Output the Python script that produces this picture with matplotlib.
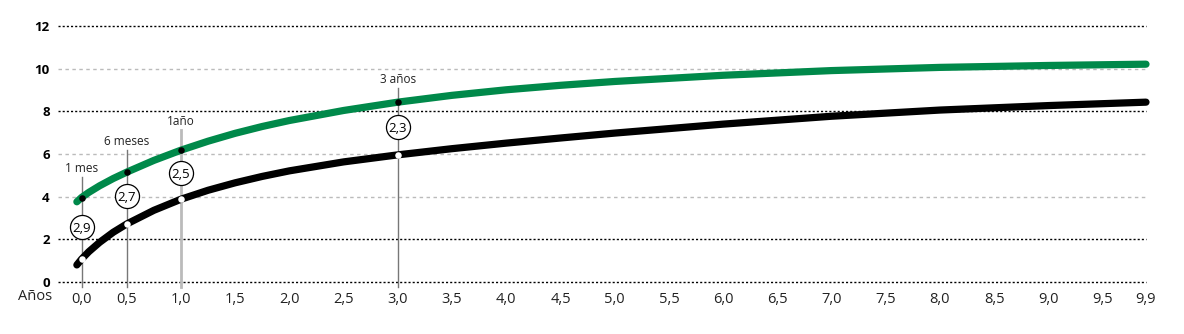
import numpy as np
import matplotlib.pyplot as plt

plt.rcParams['font.family'] = ['Open Sans', 'DejaVu Sans']

# curve values (years -> value)
years = [0.04, 0.083, 0.15, 0.25, 0.375, 0.5, 0.75, 1.0, 1.25, 1.5, 1.75, 2.0, 2.5,
         3.0, 3.5, 4.0, 4.5, 5.0, 6.0, 7.0, 8.0, 9.0, 9.9]
green_vals = [3.76, 3.96, 4.20, 4.51, 4.85, 5.15, 5.70, 6.18, 6.60, 6.97, 7.29, 7.57, 8.04,
              8.43, 8.75, 9.01, 9.22, 9.40, 9.69, 9.91, 10.06, 10.15, 10.21]
black_vals = [0.80, 1.07, 1.42, 1.86, 2.33, 2.72, 3.36, 3.88, 4.30, 4.65, 4.95, 5.21, 5.63,
              5.96, 6.25, 6.51, 6.75, 6.98, 7.40, 7.77, 8.06, 8.27, 8.43]

# highlighted moments
mark_t = [1 / 12, 0.5, 1.0, 3.0]
mark_names = ['1 mes', '6 meses', '1año', '3 años']
mark_green = [3.96, 5.15, 6.18, 8.43]
mark_black = [1.07, 2.72, 3.88, 5.96]
mark_gap = ['2,9', '2,7', '2,5', '2,3']

# x ticks
xtick_pos = [1 / 12] + [0.5 * i for i in range(1, 20)] + [9.9]
xtick_lab = ['0,0'] + [f'{0.5 * i:.1f}'.replace('.', ',') for i in range(1, 20)] + ['9,9']
ytick_pos = [0, 2, 4, 6, 8, 10, 12]

green = '#00894a'
txt = '#222222'

W, H = 1184, 334
fig = plt.figure(figsize=(W / 100, H / 100), dpi=100)
ax = fig.add_axes([58 / W, 1 - 282 / H, (1146 - 58) / W, (282 - 26) / H])
ax.set_xlim(-0.134, 9.9)
ax.set_ylim(0, 12)
for s in ax.spines.values():
    s.set_visible(False)
ppu = 256 / 12  # pixels per y unit

# grid lines
for y in ytick_pos:
    if y in (0, 2, 8, 12):
        ax.axhline(y, color='black', lw=1.0, ls=(0, (1.5, 1.5)), zorder=1, clip_on=False)
    else:
        ax.axhline(y, color='#bbbbbb', lw=1.0, ls=(0, (2.5, 2.5)), zorder=1, clip_on=False)

# vertical marker lines and labels
top_px = [21, 22, 20, 14]
for i, t in enumerate(mark_t):
    top = mark_green[i] + top_px[i] / ppu
    if mark_names[i] == '1año':
        col, lw = '#bbbbbb', 2.0
    else:
        col, lw = '#777777', 1.0
    ax.plot([t, t], [-5 / ppu, top], color=col, lw=lw, zorder=2, clip_on=False)
    ax.text(t, top + 2 / ppu, mark_names[i], ha='center', va='bottom',
            fontsize=8.5, color=txt)

ax.plot(years, green_vals, color=green, lw=5.2, solid_capstyle='round',
        solid_joinstyle='round', zorder=3, clip_on=False)
ax.plot(years, black_vals, color='black', lw=5.2, solid_capstyle='round',
        solid_joinstyle='round', zorder=3, clip_on=False)
ax.scatter(mark_t, mark_green, s=22, color='black', zorder=4, linewidths=0)
ax.scatter(mark_t, mark_black, s=22, color='white', zorder=4, linewidths=0)

for i, t in enumerate(mark_t):
    mid = (mark_green[i] + mark_black[i]) / 2 + 0.08
    ax.scatter([t], [mid], s=300, facecolor='white', edgecolor='black',
               linewidths=0.9, zorder=5)
    ax.text(t, mid, mark_gap[i], ha='center', va='center_baseline', fontsize=9.5,
            color='black', zorder=6)

ax.set_xticks(xtick_pos)
ax.set_xticklabels(xtick_lab, fontsize=10.5, color=txt)
ax.set_yticks(ytick_pos)
ax.set_yticklabels([str(v) for v in ytick_pos], fontsize=9.5, fontweight='bold', color='black')
ax.tick_params(axis='both', length=0)
ax.tick_params(axis='x', pad=7)
ax.tick_params(axis='y', pad=6)
ax.text(-0.134 - 6 / 108.4, -7 / ppu, 'Años', ha='right', va='top',
        fontsize=10.5, color=txt)

fig.savefig('out.png', dpi=100)
